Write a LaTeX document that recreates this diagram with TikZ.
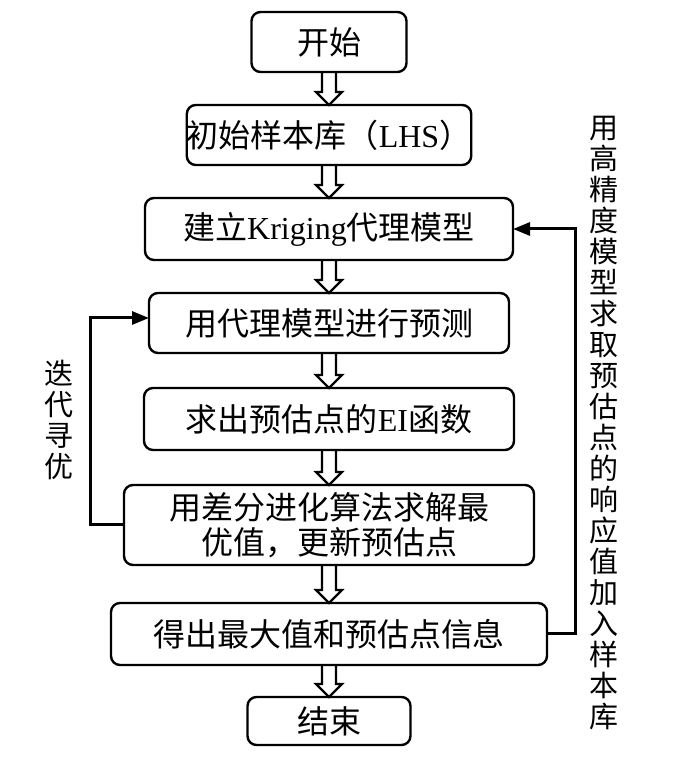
\documentclass[tikz,border=0pt]{standalone}
\usepackage{fontspec}
\setmainfont{Liberation Serif}
\newfontfamily\cjk{Noto Sans CJK SC}
\usepackage{tikz}
\usetikzlibrary{
    arrows.meta,
    positioning,
    calc
}
\tikzset{
    block/.style={
        rectangle,
        rounded corners=9pt,
        draw=black,
        line width=2.4pt,
        align=center,
        inner sep=0pt,
        outer sep=0pt,
        minimum height=60pt,
        font=\fontsize{32}{35}\selectfont\cjk
    },
    arrow/.style={
        -{Triangle[length=17pt,width=13pt]},
        line width=3pt
    },
    fatarrow/.style={
        line width=2.2pt,
        line join=miter
    },
    sidelabel/.style={
        align=center,
        inner sep=0pt,
        font=\fontsize{29}{31}\selectfont\cjk
    }
}
% hollow down arrow between two blocks
\newcommand{\flowstep}[2]{%
    \draw[fatarrow] let \p1=(#1.south), \p2=(#2.north) in
        (\x1-7pt,\y1) -- (\x1-7pt,\y2+13pt) -- (\x1-13pt,\y2+13pt) -- (\x1,\y2)
        -- (\x1+13pt,\y2+13pt) -- (\x1+7pt,\y2+13pt) -- (\x1+7pt,\y1);
}

\begin{document}
\begin{tikzpicture}
\useasboundingbox (0pt,0pt) rectangle (700pt,758pt);

\node[block, minimum width=155pt] (start) at (329pt,716pt) {开始};
\node[block, minimum width=282pt, below=33pt of start] (lhs) {初始样本库（{\rmfamily LHS}）};
\node[block, minimum width=368pt, minimum height=62pt, below=33pt of lhs] (krig) {建立{\rmfamily Kriging}代理模型};
\node[block, minimum width=360pt, below=33pt of krig] (pred) {用代理模型进行预测};
\node[block, minimum width=370pt, minimum height=62pt, below=35pt of pred] (ei) {求出预估点的{\rmfamily EI}函数};
\node[block, minimum width=410pt, minimum height=80pt, below=35pt of ei] (de) {用差分进化算法求解最\\优值，更新预估点};
\node[block, minimum width=436pt, minimum height=62pt, below=38pt of de] (best) {得出最大值和预估点信息};
\node[block, minimum width=163pt, minimum height=48pt, below=32pt of best] (stop) {结束};

\node[sidelabel] (iterlbl) at (59pt,338pt) {迭\\代\\寻\\优};
\node[sidelabel] (addlbl) at (604pt,335pt) {用\\高\\精\\度\\模\\型\\求\\取\\预\\估\\点\\的\\响\\应\\值\\加\\入\\样\\本\\库};

\flowstep{start}{lhs}
\flowstep{lhs}{krig}
\flowstep{krig}{pred}
\flowstep{pred}{ei}
\flowstep{ei}{de}
\flowstep{de}{best}
\flowstep{best}{stop}

\draw[arrow] (de.west) -- ++(-34pt,0) |- ([yshift=5pt]pred.west);
\draw[arrow] (best.east) -- ++(28pt,0) |- (krig.east);

\end{tikzpicture}
\end{document}
